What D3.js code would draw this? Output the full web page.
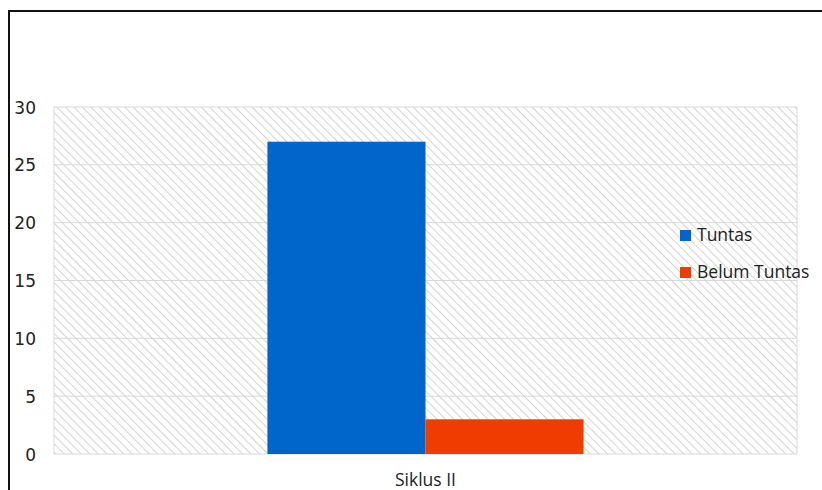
<!DOCTYPE html>
<html>
<head>
<meta charset="utf-8">
<script src="https://cdn.jsdelivr.net/npm/d3@7"></script>
<style>
  body { margin: 0; background: #fff; }
  svg { display: block; }
</style>
</head>
<body>
<svg id="chart" width="822" height="490"></svg>
<script>
// data
var categories = ['Siklus II'];
var seriesNames = ['Tuntas', 'Belum Tuntas'];
var tuntas = [27];
var belumTuntas = [3];
var yTicks = [0, 5, 10, 15, 20, 25, 30];
var colors = ['#0066cc', '#f03c00'];

var svg = d3.select('#chart');
var plotL = 54, plotR = 797, plotT = 107, plotB = 454;

// outer frame (only top and left edges show)
svg.append('line').attr('x1', 8).attr('y1', 11).attr('x2', 822).attr('y2', 11)
  .attr('stroke', '#111').attr('stroke-width', 2);
svg.append('line').attr('x1', 9).attr('y1', 10).attr('x2', 9).attr('y2', 490)
  .attr('stroke', '#111').attr('stroke-width', 2);

// hatch fill
var defs = svg.append('defs');
var pat = defs.append('pattern').attr('id', 'hatch')
  .attr('patternUnits', 'userSpaceOnUse')
  .attr('width', 6).attr('height', 6)
  .attr('patternTransform', 'rotate(-45)');
pat.append('rect').attr('width', 6).attr('height', 6).attr('fill', '#fff');
pat.append('line').attr('x1', 0).attr('y1', 0).attr('x2', 0).attr('y2', 6)
  .attr('stroke', '#d4d4d4').attr('stroke-width', 2);

svg.append('rect').attr('x', plotL).attr('y', plotT)
  .attr('width', plotR - plotL).attr('height', plotB - plotT)
  .attr('fill', 'url(#hatch)').attr('stroke', '#d9d9d9');

var y = d3.scaleLinear().domain([0, 30]).range([plotB, plotT]);
var x0 = d3.scaleBand().domain(categories).range([plotL, plotR])
  .paddingInner(0.403).paddingOuter(0.403);
var x1 = d3.scaleBand().domain(seriesNames).range([0, x0.bandwidth()]);

// gridlines
svg.append('g').selectAll('line').data(yTicks.slice(1, -1)).enter().append('line')
  .attr('x1', plotL).attr('x2', plotR)
  .attr('y1', function(d) { return y(d); }).attr('y2', function(d) { return y(d); })
  .attr('stroke', '#d9d9d9').attr('stroke-width', 1);

// y axis labels
var yAxis = d3.axisLeft(y).tickValues(yTicks).tickSize(0).tickPadding(0);
var yg = svg.append('g').attr('transform', 'translate(36,0)').call(yAxis);
yg.select('.domain').remove();
yg.selectAll('text').attr('font-family', 'DejaVu Sans').attr('font-size', 17)
  .attr('fill', '#222').attr('text-anchor', 'end').attr('dy', '0.36em');

// bars
var rows = categories.map(function(c, i) {
  return [{ s: seriesNames[0], v: tuntas[i] }, { s: seriesNames[1], v: belumTuntas[i] }];
});
svg.append('g').selectAll('g').data(rows).enter().append('g')
  .attr('transform', function(d, i) { return 'translate(' + x0(categories[i]) + ',0)'; })
  .selectAll('rect').data(function(d) { return d; }).enter().append('rect')
  .attr('x', function(d) { return x1(d.s); })
  .attr('width', x1.bandwidth())
  .attr('y', function(d) { return y(d.v); })
  .attr('height', function(d) { return plotB - y(d.v); })
  .attr('fill', function(d, i) { return colors[i]; });

// x axis labels
var xAxis = d3.axisBottom(x0).tickSize(0).tickPadding(0);
var xg = svg.append('g').attr('transform', 'translate(0,486)').call(xAxis);
xg.select('.domain').remove();
xg.selectAll('text').attr('font-family', 'Open Sans').attr('font-size', 17.5)
  .attr('fill', '#222').attr('dy', 0);

// legend
var legend = svg.append('g').selectAll('g').data(seriesNames).enter().append('g')
  .attr('transform', function(d, i) { return 'translate(680,' + (230 + i * 37) + ')'; });
legend.append('rect').attr('width', 11).attr('height', 11)
  .attr('fill', function(d, i) { return colors[i]; });
legend.append('text').attr('x', 17).attr('y', 11)
  .attr('font-family', 'Open Sans').attr('font-size', 17.5).attr('fill', '#222')
  .text(function(d) { return d; });
</script>
</body>
</html>
